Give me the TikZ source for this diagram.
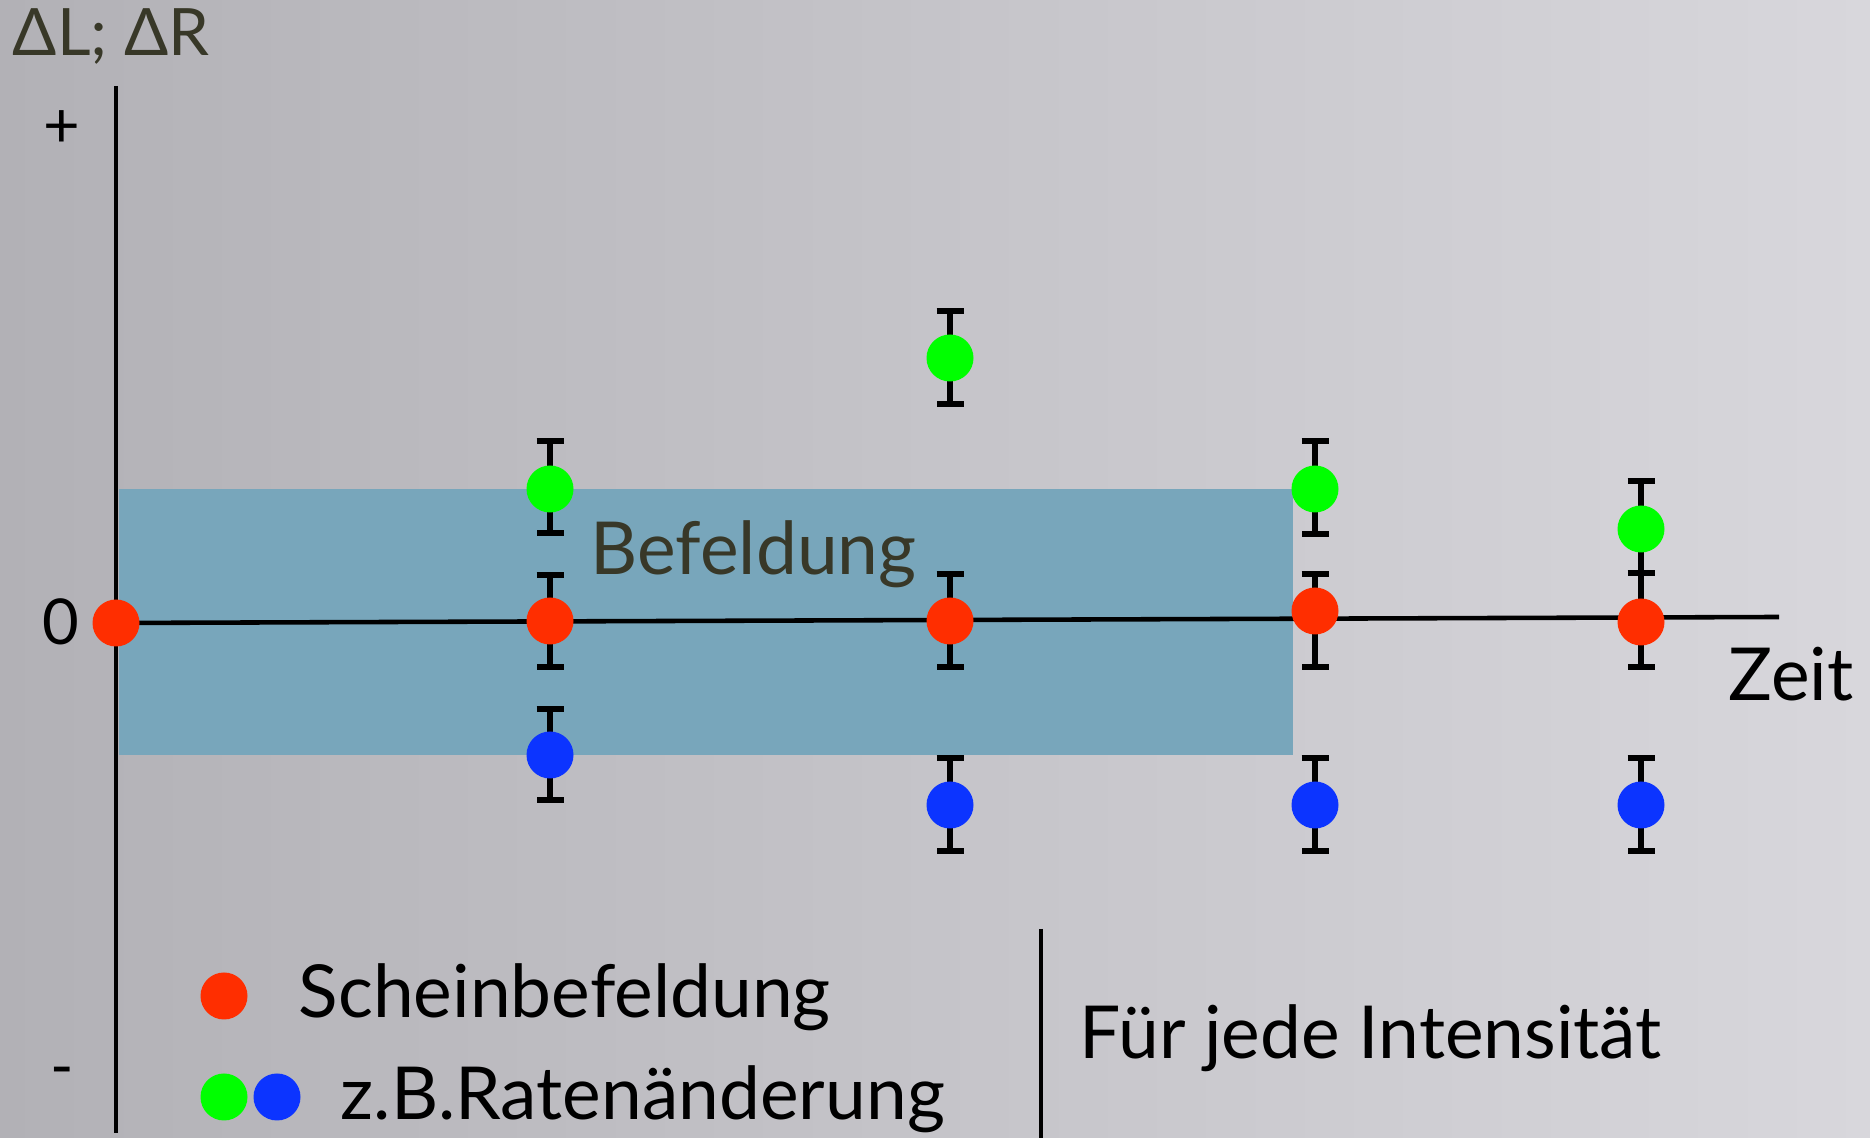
\documentclass[tikz,border=0pt]{standalone}
\usepackage{fontspec}
\setmainfont{Lato}
\usetikzlibrary{arrows.meta}
\definecolor{metaldark}{RGB}{178,177,182}
\definecolor{metallight}{RGB}{216,215,220}
\definecolor{fieldblue}{RGB}{120,166,187}
\definecolor{olivetext}{RGB}{56,56,40}
\definecolor{shamred}{RGB}{255,46,0}
\definecolor{rategreen}{RGB}{0,255,0}
\definecolor{rateblue}{RGB}{12,52,255}
\begin{document}
\begin{tikzpicture}[
  datadot/.style={circle, fill=#1, inner sep=0pt, minimum size=0.47cm},
  errbar/.style={line width=1.7pt, {Bar[width=0.27cm]}-{Bar[width=0.27cm]}},
  axisline/.style={line width=1.3pt},
  legendtext/.style={inner sep=0pt, anchor=base west, font=\fontsize{20.8}{25}\selectfont},
  signtext/.style={inner sep=0pt, font=\fontsize{18}{22}\selectfont},
]
% Page size and brushed metal background
\useasboundingbox (0,0) rectangle (18.70,11.38);
\shade[left color=metaldark, right color=metallight] (0,0) rectangle (18.70,11.38);

% Field period
\fill[fieldblue] (1.19,3.83) rectangle (12.93,6.49);
\node[legendtext, text=olivetext] (field) at (5.90,5.63) {Befeldung};

% Axes
\coordinate (origin) at (1.16,5.15);
\coordinate (ytop) at (1.16,10.52);
\coordinate (ybot) at (1.16,0.05);
\coordinate (xend) at (17.79,5.21);
\draw[axisline] (ytop) -- (ybot);
\draw[axisline] (origin) -- (xend);
\node[inner sep=0pt, anchor=base west, text=olivetext, font=\fontsize{18.6}{22}\selectfont] (ylabel) at (0.12,10.82) {ΔL; ΔR};
\node[signtext] (plus) at (0.62,10.09) {+};
\node[signtext] (zero) at (0.61,5.16) {0};
\node[signtext] (minus) at (0.62,0.60) {-};
\node[legendtext] (xlabel) at (17.28,4.37) {Zeit};

% Error bars
\draw[errbar] (5.50,7.00) -- (5.50,6.02);
\draw[errbar] (5.50,5.66) -- (5.50,4.68);
\draw[errbar] (5.50,4.32) -- (5.50,3.35);
\draw[errbar] (9.50,8.30) -- (9.50,7.31);
\draw[errbar] (9.50,5.67) -- (9.50,4.68);
\draw[errbar] (9.50,3.83) -- (9.50,2.84);
\draw[errbar] (13.15,7.00) -- (13.15,6.01);
\draw[errbar] (13.15,5.67) -- (13.15,4.68);
\draw[errbar] (13.15,3.83) -- (13.15,2.84);
\draw[errbar] (16.41,6.60) -- (16.41,5.62);
\draw[errbar] (16.41,5.68) -- (16.41,4.68);
\draw[errbar] (16.41,3.83) -- (16.41,2.84);

% Data points
\node[datadot=shamred] (r0) at (1.16,5.15) {};
\node[datadot=rategreen] (g1) at (5.50,6.49) {};
\node[datadot=shamred] (r1) at (5.50,5.17) {};
\node[datadot=rateblue] (b1) at (5.50,3.83) {};
\node[datadot=rategreen] (g2) at (9.50,7.80) {};
\node[datadot=shamred] (r2) at (9.50,5.17) {};
\node[datadot=rateblue] (b2) at (9.50,3.33) {};
\node[datadot=rategreen] (g3) at (13.15,6.49) {};
\node[datadot=shamred] (r3) at (13.15,5.27) {};
\node[datadot=rateblue] (b3) at (13.15,3.33) {};
\node[datadot=rategreen] (g4) at (16.41,6.09) {};
\node[datadot=shamred] (r4) at (16.41,5.16) {};
\node[datadot=rateblue] (b4) at (16.41,3.33) {};

% Legend
\node[datadot=shamred] (keyred) at (2.24,1.42) {};
\node[datadot=rategreen] (keygreen) at (2.24,0.41) {};
\node[datadot=rateblue] (keyblue) at (2.77,0.41) {};
\node[legendtext] (keysham) at (2.98,1.20) {Scheinbefeldung};
\node[legendtext] (keyrate) at (3.40,0.18) {z.B.Ratenänderung};
\coordinate (septop) at (10.41,2.09);
\coordinate (sepbot) at (10.41,0);
\draw[line width=1.2pt] (septop) -- (sepbot);
\node[legendtext] (note) at (10.79,0.79) {Für jede Intensität};
\end{tikzpicture}
\end{document}
